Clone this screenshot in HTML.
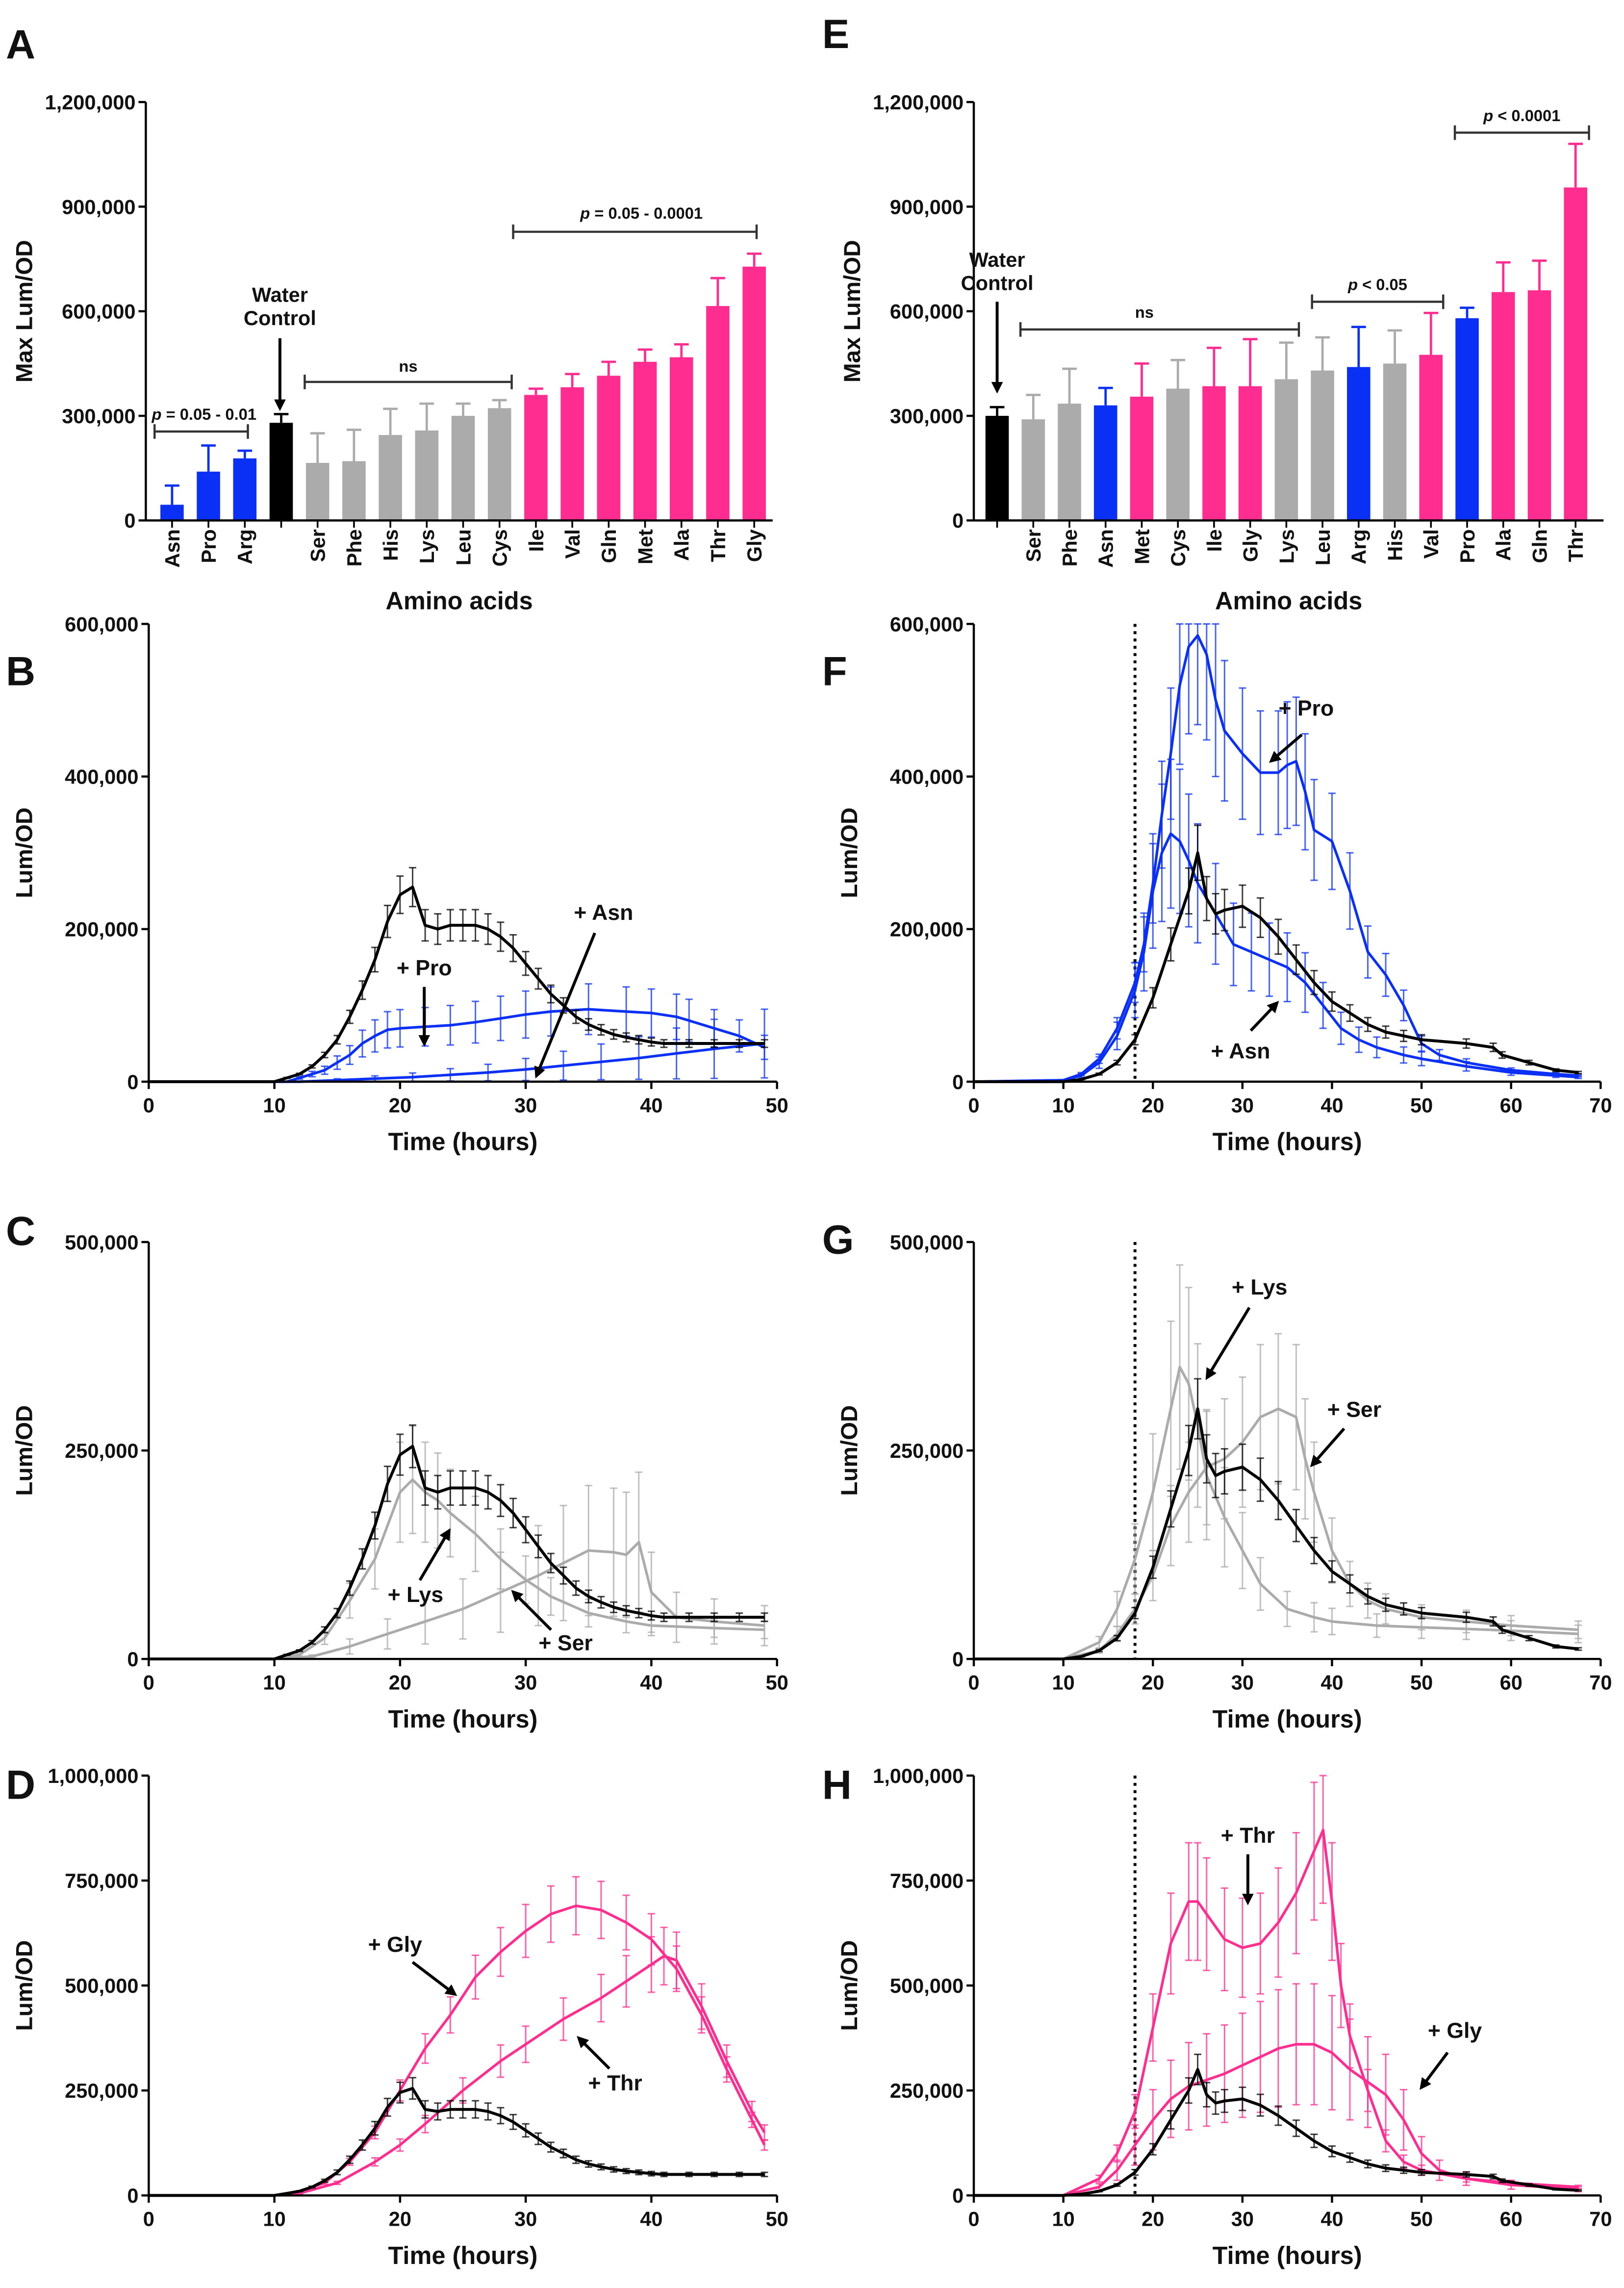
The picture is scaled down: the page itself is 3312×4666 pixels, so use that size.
<!DOCTYPE html>
<html><head><meta charset="utf-8"><style>
html,body{margin:0;padding:0;background:#fff}
svg{display:block}
text{font-family:"Liberation Sans",Arial,sans-serif;font-weight:bold;fill:#111}
</style></head><body>
<svg id="fig" xmlns="http://www.w3.org/2000/svg" width="3312" height="4666" viewBox="0 0 1114 1569.5"></svg>
<script>
// ---------- Bar data ----------
const catsA=["Asn","Pro","Arg","","Ser","Phe","His","Lys","Leu","Cys","Ile","Val","Gln","Met","Ala","Thr","Gly"];
const valsA=[45000,140000,178000,280000,165000,170000,245000,258000,300000,322000,360000,382000,415000,455000,468000,615000,728000];
const errA=[55000,75000,22000,25000,85000,90000,75000,77000,35000,23000,18000,38000,40000,35000,37000,80000,37000];
const groupA=["b","b","b","k","g","g","g","g","g","g","p","p","p","p","p","p","p"];
const catsE=["","Ser","Phe","Asn","Met","Cys","Ile","Gly","Lys","Leu","Arg","His","Val","Pro","Ala","Gln","Thr"];
const valsE=[300000,290000,335000,330000,355000,378000,385000,385000,405000,430000,440000,450000,475000,580000,655000,660000,955000];
const errE=[25000,70000,100000,50000,95000,82000,110000,135000,105000,95000,115000,95000,120000,30000,85000,85000,125000];
const groupE=["k","g","g","b","p","g","p","p","g","g","b","g","p","b","p","p","p"];
const barTicks=[0,300000,600000,900000,1200000];
const barTickLabels=["0","300,000","600,000","900,000","1,200,000"];
// ---------- Line data ----------
const ctrlT_L=[0,5,10,11,12,13,14,15,16,17,18,19,20,21,22,23,24,25,26,27,28,29,30,31,32,33,34,35,36,37,38,39,40,41,43,45,47,49];
const ctrlV_L=[0,0,0,5000,10000,20000,35000,55000,85000,120000,160000,210000,245000,255000,205000,200000,205000,205000,205000,200000,190000,175000,155000,135000,115000,100000,85000,75000,68000,62000,58000,55000,52000,50000,50000,50000,50000,50000];
const proT_B=[0,5,11,12,13,14,15,16,17,18,19,20,22,24,26,28,30,32,35,38,40,42,43,45,47,49];
const proV_B=[0,0,0,5000,10000,15000,25000,35000,50000,60000,68000,70000,72000,74000,78000,83000,88000,92000,95000,92000,90000,85000,80000,70000,60000,45000];
const asnT_B=[0,10,12,15,18,21,24,27,30,33,36,39,42,45,49];
const asnV_B=[0,0,0,2000,4000,6000,9000,12000,16000,21000,26000,31000,37000,43000,50000];
const lysT_C=[0,10,12,14,16,18,20,21,22,23,24,26,28,30,32,35,38,40,45,49];
const lysV_C=[0,0,5000,25000,70000,120000,200000,215000,200000,190000,175000,150000,120000,95000,75000,55000,45000,40000,37000,35000];
const serT_C=[0,10,13,16,19,22,25,28,31,33,35,37,38,39,40,42,45,49];
const serV_C=[0,0,3000,15000,30000,45000,60000,80000,100000,115000,130000,128000,125000,140000,80000,50000,45000,40000];
const glyT_D=[0,10,12,14,16,18,20,22,24,26,28,30,32,34,36,38,40,42,44,46,48,49];
const glyV_D=[0,0,10000,30000,80000,150000,250000,350000,430000,520000,580000,630000,670000,690000,680000,650000,610000,540000,430000,300000,180000,120000];
const thrT_D=[0,10,12,15,18,20,22,25,28,30,33,36,38,40,41,42,44,46,48,49];
const thrV_D=[0,0,5000,30000,80000,120000,170000,250000,320000,360000,420000,470000,510000,550000,570000,560000,450000,320000,200000,150000];
const ctrlT_R=[0,10,12,14,16,18,20,22,24,25,26,27,28,30,32,34,36,38,40,42,44,46,48,50,55,58,59,62,65,67.5];
const ctrlV_R=[0,0,3000,10000,25000,55000,110000,180000,250000,300000,240000,220000,225000,230000,215000,190000,160000,130000,105000,90000,75000,65000,60000,55000,50000,45000,35000,25000,15000,12000];
const proT_F=[0,10,12,14,16,18,19,20,21,22,23,24,25,26,27,28,30,32,34,35,36,37,38,40,42,44,46,48,50,52,55,60,65,67.5];
const proV_F=[0,2000,10000,30000,70000,130000,180000,260000,350000,430000,520000,570000,585000,560000,500000,460000,430000,405000,405000,415000,420000,380000,330000,315000,250000,170000,140000,100000,50000,35000,25000,15000,10000,8000];
const asnT_F=[0,10,12,14,16,18,19,20,21,22,23,24,25,27,29,31,33,35,37,39,41,43,45,48,50,55,60,65,67.5];
const asnV_F=[0,2000,8000,25000,60000,120000,170000,250000,300000,325000,315000,290000,260000,220000,180000,170000,160000,150000,130000,100000,70000,55000,45000,35000,30000,20000,12000,8000,6000];
const lysT_G=[0,10,14,16,18,20,22,23,24,25,26,28,30,32,35,38,40,45,50,55,60,67.5];
const lysV_G=[0,0,20000,60000,120000,200000,300000,350000,330000,280000,220000,170000,130000,90000,60000,50000,45000,40000,38000,36000,34000,30000];
const serT_G=[0,10,14,16,18,20,22,24,26,28,30,32,34,36,37,38,40,42,44,46,50,55,60,67.5];
const serV_G=[0,0,10000,30000,60000,100000,160000,200000,230000,240000,260000,290000,300000,290000,240000,200000,130000,90000,70000,60000,50000,45000,40000,35000];
const thrT_H=[0,10,14,16,18,20,22,24,25,26,28,30,32,34,36,38,39,40,41,42,44,46,48,50,55,60,67.5];
const thrV_H=[0,0,40000,100000,200000,400000,600000,700000,700000,670000,610000,590000,600000,650000,720000,820000,870000,700000,500000,380000,250000,130000,80000,60000,40000,30000,20000];
const glyT_H=[0,10,14,16,18,20,22,24,26,28,30,32,34,36,38,40,42,44,46,48,50,52,55,60,67.5];
const glyV_H=[0,0,20000,60000,120000,180000,230000,260000,275000,290000,310000,330000,350000,360000,360000,340000,300000,270000,240000,180000,100000,60000,40000,25000,15000];
const timeTicksL=[0,10,20,30,40,50];
const timeTicksR=[0,10,20,30,40,50,60,70];

const NS="http://www.w3.org/2000/svg";
const svg=document.getElementById('fig');
const COL={b:"#0b30f5",k:"#000",g:"#ababab",p:"#ff2d8f"};
function el(tag,attrs,parent){const e=document.createElementNS(NS,tag);for(const k in attrs)e.setAttribute(k,attrs[k]);(parent||svg).appendChild(e);return e;}
function txt(x,y,s,size,anchor,parent,extra){const t=el('text',Object.assign({x:x,y:y,'font-size':size,'text-anchor':anchor||'middle'},extra||{}),parent);t.textContent=s;return t;}
function fmt(v){return v.toLocaleString('en-US');}

// defs arrow
const defs=el('defs',{});
const mk=el('marker',{id:'ah',markerWidth:8,markerHeight:8,refX:6,refY:4,orient:'auto',markerUnits:'userSpaceOnUse'},defs);
el('path',{d:'M0,0 L8,4 L0,8 Z',fill:'#000'},mk);

function panelLetter(x,y,s){const t=txt(x,y,s,28,'start');}

function barPanel(id,x0,x1,y0,y1,cats,vals,errs,groups,firstX,step){
  const g=el('g',{});
  
  
  const ymax=1200000;
  const sy=v=>y0-(v/ymax)*(y0-y1);
  const sx=i=>firstX+i*step;
  // bars
  vals.forEach((v,i)=>{
    const c=COL[groups[i]];
    const top=sy(v+errs[i]);
    const ln=el('line',{x1:sx(i),x2:sx(i),y1:sy(v),y2:top,stroke:c,'stroke-width':1.6},g);
    
    
    el('line',{x1:sx(i)-5,x2:sx(i)+5,y1:top,y2:top,stroke:c,'stroke-width':1.6},g);
    const r=el('rect',{x:sx(i)-8,y:sy(v),width:16,height:y0-sy(v),fill:c},g);
    
    
    if(cats[i]){const t=txt(0,0,cats[i],14,'end',g,{transform:`translate(${sx(i)+5},${y0+6}) rotate(-90)`});
      }
  });
  // axes
  el('line',{x1:x0,x2:x0,y1:y1,y2:y0,stroke:'#000','stroke-width':1.5},g);
  el('line',{x1:x0,x2:x1,y1:y0,y2:y0,stroke:'#000','stroke-width':1.5},g);
  barTicks.forEach((v,i)=>{
    el('line',{x1:x0-5,x2:x0,y1:sy(v),y2:sy(v),stroke:'#000','stroke-width':1.5},g);
    const t=txt(x0-7,sy(v)+5,barTickLabels[i],14,'end',g);
    
  });
  vals.forEach((v,i)=>el('line',{x1:sx(i),x2:sx(i),y1:y0,y2:y0+5,stroke:'#000','stroke-width':1.2},g));
  const yt=txt(0,0,'Max Lum/OD',16,'middle',g,{transform:`translate(${x0-78},${(y0+y1)/2}) rotate(-90)`});
  
  const xt=txt((x0+x1)/2,418,'Amino acids',17,'middle',g);
  
  return g;
}

function bracket(xa,xb,y,label,tx,ty,italicP){
  const g=el('g',{});
  
  
  el('line',{x1:xa,x2:xb,y1:y,y2:y,stroke:'#333','stroke-width':1.5},g);
  el('line',{x1:xa,x2:xa,y1:y-5,y2:y+5,stroke:'#333','stroke-width':1.5},g);
  el('line',{x1:xb,x2:xb,y1:y-5,y2:y+5,stroke:'#333','stroke-width':1.5},g);
  const t=el('text',{x:tx,y:ty,'font-size':11,'text-anchor':'middle','font-weight':'normal'},g);
  if(italicP){const s=el('tspan',{'font-style':'italic'},t);s.textContent='p';const s2=el('tspan',{},t);s2.textContent=label;}
  else t.textContent=label;
}
function arrow(x1,y1,x2,y2){const a=el('line',{x1,y1,x2,y2,stroke:'#000','stroke-width':2,'marker-end':'url(#ah)'});}
function label(x,y,s){const t=txt(x,y,s,15,'middle');}

function linePanel(id,x0,x1,y0,y1,xmax,ymax,yticks,xticks,series,dotted){
  const g=el('g',{});
  
  
  const sx=t=>x0+(t/xmax)*(x1-x0);
  const sy=v=>y0-(v/ymax)*(y0-y1);
  if(dotted){const d=el('line',{x1:sx(18),x2:sx(18),y1:y1,y2:y0,stroke:'#000','stroke-width':2,'stroke-dasharray':'2,3'},g);
    }
  series.forEach(s=>{
    const sg=el('g',{},g);
    
    
    s.t.forEach((t,i)=>{
      const v=s.v[i];if(v<=0)return;const e=v*s.err;
      el('line',{x1:sx(t),x2:sx(t),y1:sy(v-e),y2:sy(Math.min(v+e,ymax)),stroke:s.c,'stroke-width':1,opacity:0.75},sg);
      el('line',{x1:sx(t)-2.5,x2:sx(t)+2.5,y1:sy(Math.min(v+e,ymax)),y2:sy(Math.min(v+e,ymax)),stroke:s.c,'stroke-width':1,opacity:0.75},sg);
      el('line',{x1:sx(t)-2.5,x2:sx(t)+2.5,y1:sy(v-e),y2:sy(v-e),stroke:s.c,'stroke-width':1,opacity:0.75},sg);
    });
    const d=s.t.map((t,i)=>(i?'L':'M')+sx(t).toFixed(1)+','+sy(s.v[i]).toFixed(1)).join(' ');
    const p=el('path',{d:d,fill:'none',stroke:s.c,'stroke-width':s.w||1.8,'stroke-linejoin':'round'},sg);
    
    
  });
  el('line',{x1:x0,x2:x0,y1:y1,y2:y0,stroke:'#000','stroke-width':1.5},g);
  el('line',{x1:x0,x2:x1,y1:y0,y2:y0,stroke:'#000','stroke-width':1.5},g);
  yticks.forEach(v=>{
    el('line',{x1:x0-5,x2:x0,y1:sy(v),y2:sy(v),stroke:'#000','stroke-width':1.5},g);
    const t=txt(x0-7,sy(v)+5,fmt(v),14,'end',g);
    
  });
  xticks.forEach(v=>{
    el('line',{x1:sx(v),x2:sx(v),y1:y0,y2:y0+5,stroke:'#000','stroke-width':1.5},g);
    const t=txt(sx(v),y0+21,String(v),14,'middle',g);
    
  });
  const yt=txt(0,0,'Lum/OD',16,'middle',g,{transform:`translate(${x0-80},${(y0+y1)/2}) rotate(-90)`});
  
  const xt=txt((x0+x1)/2,y0+47,'Time (hours)',17,'middle',g);
  
}

// Panel A / E
panelLetter(4,40,'A');panelLetter(564,33,'E');
barPanel('a',100,530,357,70,catsA,valsA,errA,groupA,118,24.96);
barPanel('e',668,1100,357,70,catsE,valsE,errE,groupE,684,24.8);
txt(192,207,'Water',14);txt(192,223,'Control',14);arrow(192,232,192,280);
bracket(209,351,262,'ns',280,255,false);
bracket(106,170,296,' = 0.05 - 0.01',140,288,true);
bracket(352,519,159,' = 0.05 - 0.0001',440,150,true);
txt(684,183,'Water',14);txt(684,199,'Control',14);arrow(684,207,684,268);
bracket(700,891,226,'ns',785,218,false);
bracket(900,990,207,' < 0.05',945,199,true);
bracket(998,1090,91,' < 0.0001',1044,83,true);

// B
panelLetter(4,470,'B');
linePanel('b',102,533,742,428,50,600000,[0,200000,400000,600000],timeTicksL,[
 {name:'asn',t:asnT_B,v:asnV_B,c:COL.b,err:0.9},
 {name:'pro',t:proT_B,v:proV_B,c:COL.b,err:0.35},
 {name:'control',t:ctrlT_L,v:ctrlV_L,c:'#000',err:0.1,w:2}],false);
label(414,631,'+ Asn');arrow(408,640,368,738);
label(291,669,'+ Pro');arrow(291,677,291,716);
// C
panelLetter(4,854,'C');
linePanel('c',102,533,1138,852,50,500000,[0,250000,500000],timeTicksL,[
 {name:'ser',t:serT_C,v:serV_C,c:COL.g,err:0.6},
 {name:'lys',t:lysT_C,v:lysV_C,c:COL.g,err:0.3},
 {name:'control',t:ctrlT_L,v:ctrlV_L,c:'#000',err:0.1,w:2}],false);
label(285,1099,'+ Lys');arrow(288,1084,308,1050);
label(388,1132,'+ Ser');arrow(378,1118,352,1092);
// D
panelLetter(4,1234,'D');
linePanel('d',102,533,1506,1218,50,1000000,[0,250000,500000,750000,1000000],timeTicksL,[
 {name:'gly',t:glyT_D,v:glyV_D,c:COL.p,err:0.1},
 {name:'thr',t:thrT_D,v:thrV_D,c:COL.p,err:0.12},
 {name:'control',t:ctrlT_L,v:ctrlV_L,c:'#000',err:0.1,w:2}],false);
label(271,1339,'+ Gly');arrow(283,1346,312,1368);
label(422,1434,'+ Thr');arrow(418,1419,397,1398);
// F
panelLetter(564,470,'F');
linePanel('f',668,1098,742,428,70,600000,[0,200000,400000,600000],timeTicksR,[
 {name:'pro',t:proT_F,v:proV_F,c:COL.b,err:0.2},
 {name:'asn',t:asnT_F,v:asnV_F,c:COL.b,err:0.3},
 {name:'control',t:ctrlT_R,v:ctrlV_R,c:'#000',err:0.12,w:2}],true);
label(896,491,'+ Pro');arrow(893,504,872,522);
label(851,726,'+ Asn');arrow(858,707,876,688);
// G
panelLetter(564,860,'G');
linePanel('g',668,1098,1138,852,70,500000,[0,250000,500000],timeTicksR,[
 {name:'ser',t:serT_G,v:serV_G,c:COL.g,err:0.3},
 {name:'lys',t:lysT_G,v:lysV_G,c:COL.g,err:0.35},
 {name:'control',t:ctrlT_R,v:ctrlV_R,c:'#000',err:0.12,w:2}],true);
label(864,888,'+ Lys');arrow(857,897,828,945);
label(929,972,'+ Ser');arrow(922,980,900,1005);
// H
panelLetter(564,1234,'H');
linePanel('h',668,1098,1506,1218,70,1000000,[0,250000,500000,750000,1000000],timeTicksR,[
 {name:'thr',t:thrT_H,v:thrV_H,c:COL.p,err:0.2},
 {name:'gly',t:glyT_H,v:glyV_H,c:COL.p,err:0.4},
 {name:'control',t:ctrlT_R,v:ctrlV_R,c:'#000',err:0.12,w:2}],true);
label(856,1264,'+ Thr');arrow(856,1272,856,1305);
label(998,1398,'+ Gly');arrow(993,1408,975,1432);
</script>
</body></html>
